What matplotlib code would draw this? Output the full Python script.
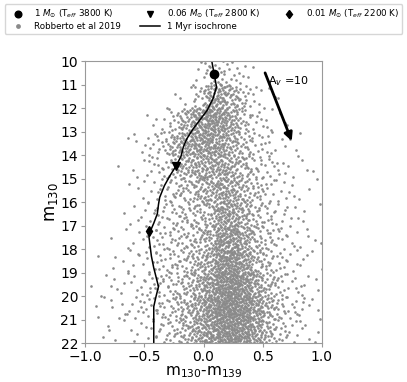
import numpy as np
import matplotlib.pyplot as plt

# ==========================================
# Dados
# ==========================================
# isocrona de 1 Myr (cor, magnitude)
iso_color = [0.07, 0.09, 0.11, 0.08, 0.03, -0.03, -0.09, -0.14, -0.17, -0.19,
             -0.23, -0.28, -0.33, -0.37, -0.38, -0.39, -0.42, -0.45, -0.46,
             -0.45, -0.44, -0.42, -0.40, -0.38, -0.40, -0.42, -0.42, -0.42]
iso_mag = [10.0, 10.55, 11.1, 11.6, 12.1, 12.5, 12.9, 13.3, 13.65, 14.05,
           14.45, 14.85, 15.3, 15.8, 16.1, 16.5, 16.9, 17.25, 17.5,
           17.9, 18.3, 18.8, 19.2, 19.6, 20.0, 20.45, 21.2, 22.0]

# pontos marcados na isocrona
m1_c, m1_m = 0.09, 10.55    # 1 Msun
m006_c, m006_m = -0.23, 14.45  # 0.06 Msun
m001_c, m001_m = -0.46, 17.25  # 0.01 Msun

# vetor de extincao A_v = 10
av_start = (0.52, 10.5)
av_end = (0.745, 13.4)

# Robberto et al 2019: contagem de estrelas por celula
# linhas = magnitude (10-11, 11-12, ..., 21-22), colunas = cor (-1.0 .. 1.0 em passos de 0.1)
color_edges = np.round(np.arange(-1.0, 1.01, 0.1), 2)
mag_edges = np.arange(10, 23, 1)
counts = [
    [0, 0, 0, 0, 0, 0, 0, 0, 0, 3, 9, 12, 7, 4, 1, 0, 0, 0, 0, 0],
    [0, 0, 0, 0, 0, 0, 0, 1, 3, 12, 35, 42, 28, 12, 5, 3, 1, 0, 0, 0],
    [0, 0, 0, 0, 0, 2, 4, 12, 28, 45, 58, 52, 32, 15, 7, 4, 2, 1, 0, 0],
    [0, 0, 0, 1, 3, 6, 12, 24, 38, 48, 52, 42, 28, 16, 10, 6, 3, 2, 1, 0],
    [0, 0, 1, 0, 3, 5, 8, 14, 26, 34, 38, 38, 30, 20, 12, 8, 5, 3, 2, 1],
    [0, 0, 0, 1, 2, 4, 8, 12, 17, 23, 30, 42, 34, 23, 14, 8, 5, 3, 2, 1],
    [0, 0, 0, 2, 3, 5, 9, 11, 14, 17, 23, 42, 42, 27, 16, 10, 6, 4, 2, 1],
    [0, 0, 1, 2, 3, 6, 9, 12, 14, 19, 27, 52, 56, 34, 19, 12, 8, 5, 3, 2],
    [0, 1, 2, 3, 4, 6, 9, 12, 15, 23, 34, 62, 66, 45, 23, 14, 8, 5, 3, 2],
    [1, 2, 3, 4, 5, 8, 11, 14, 19, 30, 48, 72, 80, 62, 37, 19, 11, 6, 4, 2],
    [1, 2, 3, 5, 6, 8, 11, 15, 23, 37, 58, 80, 86, 72, 48, 26, 14, 8, 5, 3],
    [0, 2, 2, 2, 3, 5, 8, 14, 23, 37, 55, 72, 78, 65, 44, 23, 12, 6, 4, 2],
]


def halton(i, base):
    f, r = 1.0, 0.0
    while i > 0:
        f /= base
        r += f * (i % base)
        i //= base
    return r


# espalha as estrelas dentro de cada celula (Halton com salto, deterministico)
star_c, star_m = [], []
k = 1
for i in range(len(mag_edges) - 1):
    for j in range(len(color_edges) - 1):
        for n in range(counts[i][j]):
            star_c.append(color_edges[j] + 0.1 * halton(k, 2))
            star_m.append(mag_edges[i] + 1.0 * halton(k, 3))
            k += 409

# ==========================================
# Grafico
# ==========================================
fig = plt.figure(figsize=(4.07, 3.82), dpi=100)
ax = fig.add_axes([0.209, 0.102, 0.582, 0.738])

ax.scatter(star_c, star_m, s=3.6, color='#8a8a8a', linewidths=0,
           label='Robberto et al 2019', zorder=1)
ax.plot(iso_color, iso_mag, 'k-', lw=1.1, label='1 Myr isochrone', zorder=2)
ax.plot(m1_c, m1_m, 'ko', ms=6, ls='none',
        label=r'1 $M_{\odot}$ (T$_{eff}$ 3800 K)', zorder=3)
ax.plot(m006_c, m006_m, 'kv', ms=5.5, ls='none',
        label=r'0.06 $M_{\odot}$ (T$_{eff}$ 2800 K)', zorder=3)
ax.plot(m001_c, m001_m, 'kd', ms=5.5, ls='none',
        label=r'0.01 $M_{\odot}$ (T$_{eff}$ 2200 K)', zorder=3)

ax.annotate('', xy=av_end, xytext=av_start,
            arrowprops=dict(arrowstyle='-|>', color='k', lw=2,
                            mutation_scale=12, shrinkA=0, shrinkB=0))
ax.text(0.545, 10.85, r'A$_v$ =10', fontsize=8, va='center', ha='left')

ax.set_xlim(-1.0, 1.0)
ax.set_ylim(22, 10)
ax.set_xticks([-1.0, -0.5, 0.0, 0.5, 1.0])
ax.set_yticks(range(10, 23))
ax.tick_params(labelsize=10, color='#999999', length=3, pad=2)
for s in ax.spines.values():
    s.set_color('#999999')
ax.set_xlabel(r'm$_{130}$-m$_{139}$', fontsize=11, labelpad=0)
ax.set_ylabel(r'm$_{130}$', fontsize=12, labelpad=0)

h, l = ax.get_legend_handles_labels()
order = [2, 0, 3, 1, 4]
leg = fig.legend([h[i] for i in order], [l[i] for i in order], ncol=3,
                 loc='upper center', bbox_to_anchor=(0.5, 1.0), fontsize=6.3,
                 columnspacing=2.2, handlelength=2.2, borderpad=0.4,
                 labelspacing=0.15, markerscale=0.8)
leg.legend_handles[1].set_sizes([12])

plt.savefig('out.png', dpi=100)
